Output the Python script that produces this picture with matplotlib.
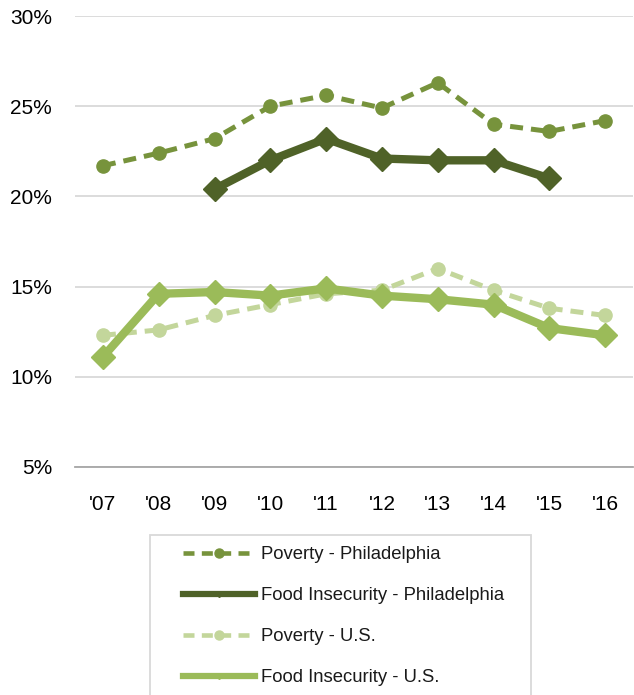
import matplotlib.pyplot as plt
from matplotlib.lines import Line2D
from matplotlib.patches import Rectangle
import numpy as np

plt.rcParams['font.family'] = ['Liberation Sans', 'DejaVu Sans']

YEARS = ["'07", "'08", "'09", "'10", "'11", "'12", "'13", "'14", "'15", "'16"]

pov_phl = [21.7, 22.4, 23.2, 25.0, 25.6, 24.9, 26.3, 24.0, 23.6, 24.2]
food_phl = [np.nan, np.nan, 20.4, 22.0, 23.2, 22.1, 22.0, 22.0, 21.0, np.nan]
pov_us = [12.3, 12.6, 13.4, 14.0, 14.6, 14.8, 16.0, 14.8, 13.8, 13.4]
food_us = [11.1, 14.6, 14.7, 14.5, 14.9, 14.5, 14.3, 14.0, 12.7, 12.3]

LABELS = ["Poverty - Philadelphia", "Food Insecurity - Philadelphia",
          "Poverty - U.S.", "Food Insecurity - U.S."]

C_POV_PHL = "#77933C"
C_FOOD_PHL = "#4F6228"
C_POV_US = "#C3D69B"
C_FOOD_US = "#9BBB59"

x = np.arange(len(YEARS))

fig = plt.figure(figsize=(6.34, 6.95), dpi=100)
ax = fig.add_axes([75/634, 1-467/695, 558/634, 451/695])

dash = (2.6, 1.6)
ax.plot(x, pov_us, color=C_POV_US, lw=3.6, dashes=dash, marker='o', ms=9.5, zorder=3)
ax.plot(x, food_us, color=C_FOOD_US, lw=6, marker='D', ms=12, zorder=4)
ax.plot(x, pov_phl, color=C_POV_PHL, lw=3.6, dashes=dash, marker='o', ms=9.5, zorder=3)
ax.plot(x, food_phl, color=C_FOOD_PHL, lw=6, marker='D', ms=12, zorder=4)

ax.set_xlim(-0.5, len(YEARS) - 0.5)
ax.set_ylim(5, 30)
ax.set_yticks([5, 10, 15, 20, 25, 30])
ax.set_yticklabels(["5%", "10%", "15%", "20%", "25%", "30%"])
ax.set_xticks(x)
ax.set_xticklabels(YEARS)
ax.tick_params(axis='both', length=0, labelsize=15, colors='black')
ax.tick_params(axis='y', pad=16.5)
ax.tick_params(axis='x', pad=20)
ax.grid(axis='y', color='#D9D9D9', lw=1.3)
ax.set_axisbelow(True)
for s in ['top', 'right', 'left']:
    ax.spines[s].set_visible(False)
ax.spines['bottom'].set_color('#A6A6A6')
ax.spines['bottom'].set_linewidth(1.3)

# legend frame, runs off the bottom edge like the original
fig.patches.append(Rectangle((150/634, -0.05), 381/634, 0.05 + 1-535/695,
                             transform=fig.transFigure, facecolor='none',
                             edgecolor='#D9D9D9', lw=1.3))

handles = [
    Line2D([], [], color=C_POV_PHL, lw=3.3, dashes=(2.4, 1.6), marker='o', ms=6.5),
    Line2D([], [], color=C_FOOD_PHL, lw=4.5, marker='D', ms=3),
    Line2D([], [], color=C_POV_US, lw=3.3, dashes=(2.4, 1.6), marker='o', ms=6.5),
    Line2D([], [], color=C_FOOD_US, lw=4.5, marker='D', ms=3),
]
leg = fig.legend(handles, LABELS, loc='upper left',
                 bbox_to_anchor=(183/634, 1-546/695), fontsize=13.3,
                 frameon=False, handlelength=3.9,
                 handletextpad=0.3, labelspacing=1.3, borderpad=0,
                 borderaxespad=0)
for t in leg.get_texts():
    t.set_color('#1a1a1a')

fig.savefig("out.png", dpi=100)
